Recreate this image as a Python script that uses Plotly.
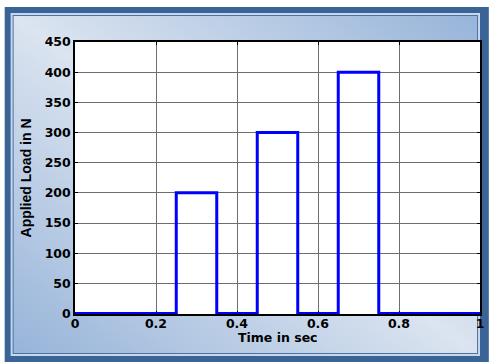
import base64
import plotly.graph_objects as go

# Applied load profile: three rectangular pulses of increasing magnitude
time_s = [0, 0.25, 0.25, 0.35, 0.35, 0.45, 0.45, 0.55, 0.55, 0.65, 0.65, 0.75, 0.75, 1.0]
load_n = [0, 0, 200, 200, 0, 0, 300, 300, 0, 0, 400, 400, 0, 0]

x_ticks = [0, 0.2, 0.4, 0.6, 0.8, 1]
x_tick_text = ["0", "0.2", "0.4", "0.6", "0.8", "1"]
y_ticks = [0, 50, 100, 150, 200, 250, 300, 350, 400, 450]

W, H = 493, 363
L, R, T, B = 75, 9, 42, 49
pw, ph = W - L - R, H - T - B

# framed, gradient-filled backdrop for the whole figure, white behind the axes
svg = f"""<svg xmlns='http://www.w3.org/2000/svg' width='{W}' height='{H}' viewBox='0 0 {W} {H}' preserveAspectRatio='none'>
<defs><linearGradient id='g' x1='1' y1='0' x2='0' y2='1'>
<stop offset='0' stop-color='#97b4d9'/>
<stop offset='0.5' stop-color='#dbe4f0'/>
<stop offset='1' stop-color='#97b4d9'/>
</linearGradient></defs>
<rect x='0' y='0' width='{W}' height='{H}' fill='#ffffff'/>
<rect x='4' y='7' width='{W-4}' height='{H-8}' fill='#3a6496'/>
<rect x='10' y='13' width='{W-19}' height='{H-20}' fill='#c9d7ea'/>
<rect x='12' y='15' width='{W-23}' height='{H-24}' fill='#4a72a4'/>
<rect x='13' y='16' width='{W-25}' height='{H-26}' fill='url(#g)'/>
<rect x='{L}' y='{T}' width='{pw}' height='{ph}' fill='#ffffff'/>
</svg>"""
src = "data:image/svg+xml;base64," + base64.b64encode(svg.encode()).decode()

fig = go.Figure()
fig.add_trace(go.Scatter(
    x=time_s, y=load_n, mode="lines",
    line=dict(color="#0000ff", width=3),
    hoverinfo="skip", showlegend=False,
))

fig.add_layout_image(dict(
    source=src, xref="paper", yref="paper",
    x=-L / pw, y=(ph + T) / ph, sizex=W / pw, sizey=H / ph,
    xanchor="left", yanchor="top", sizing="stretch", layer="below",
))

tick_font = dict(family="DejaVu Sans", size=12.5, color="#000000", weight="bold")

axis_common = dict(
    showline=True, linecolor="#000000", linewidth=1.5, mirror="ticks",
    ticks="inside", ticklen=3, tickcolor="#000000", tickwidth=1,
    showgrid=True, gridcolor="#6e6e6e", gridwidth=1,
    zeroline=False, tickfont=tick_font, layer="below traces",
)

fig.update_xaxes(range=[0, 1], tickvals=x_ticks, ticktext=x_tick_text,
                 ticklabelstandoff=-3, **axis_common)
fig.update_yaxes(range=[-0.8, 450], tickvals=y_ticks, **axis_common)

fig.add_annotation(
    text="Applied Load in N", xref="paper", yref="paper",
    x=(26 - L) / pw, y=0.5, textangle=-90, showarrow=False,
    font=dict(family="Liberation Sans", size=14, color="#000000", weight="bold"),
    xanchor="center", yanchor="middle",
)
fig.add_annotation(
    text="Time in sec", xref="paper", yref="paper",
    x=0.5, y=(ph + T - 337) / ph, showarrow=False,
    font=dict(family="DejaVu Sans", size=12.5, color="#000000", weight="bold"),
    xanchor="center", yanchor="middle",
)

fig.update_layout(
    width=W, height=H,
    margin=dict(l=L, r=R, t=T, b=B),
    paper_bgcolor="#ffffff", plot_bgcolor="#ffffff",
)

fig.write_html("out.html")
